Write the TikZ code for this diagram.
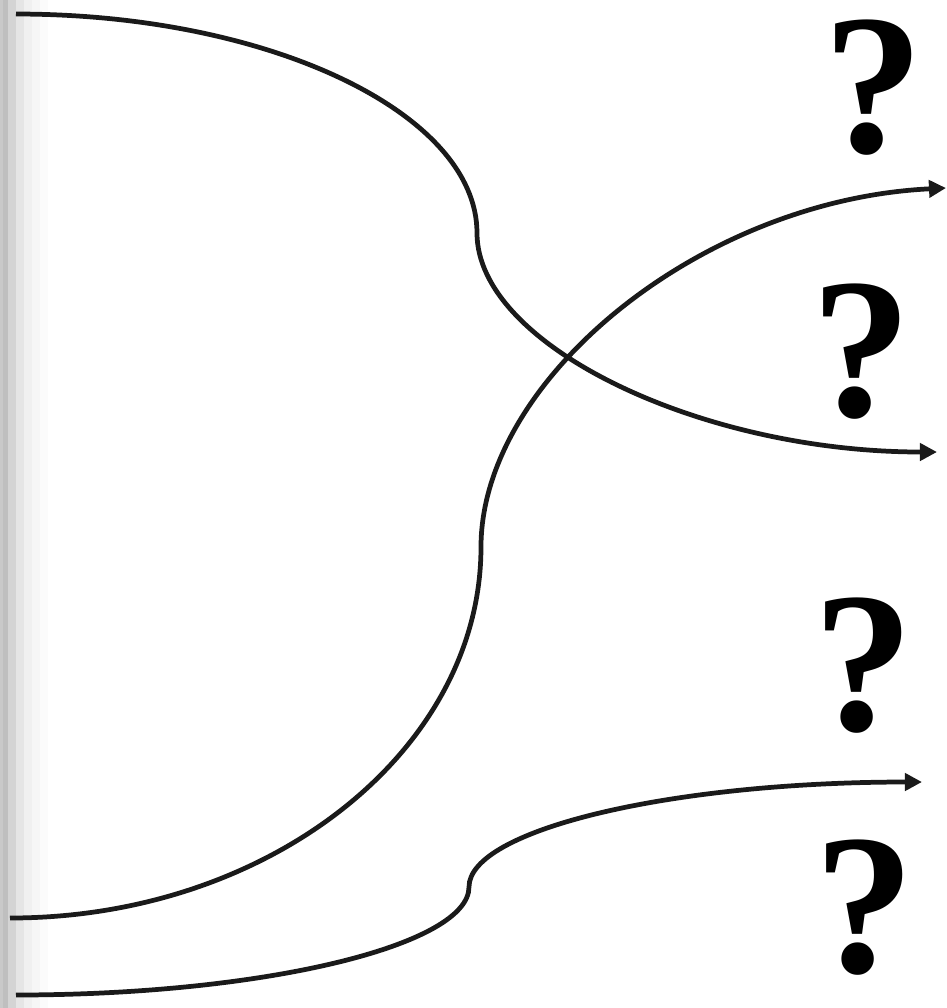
\documentclass[tikz,border=0pt]{standalone}
\usepackage{fontspec}
\setmainfont{Liberation Serif}
\usetikzlibrary{arrows.meta}
\definecolor{flowink}{HTML}{1A1A1A}

\begin{document}
\begin{tikzpicture}[x=0.1mm,y=-0.1mm,>={Triangle[length=1.7mm,width=1.7mm]}]
  \tikzstyle{flow}=[draw=flowink, line width=1.35pt]
  \tikzstyle{unknown}=[font=\fontsize{57}{57}\selectfont\bfseries, inner sep=0pt, anchor=base]

  \path[use as bounding box] (0,0) rectangle (947,1008);

  % Left edge: banded grey fade.
  \foreach \x/\shadeval in {0/21,3/25,8/17,16/10,24/6,32/3.5,40/1.5} {
    \fill[black!\shadeval] (\x,0) rectangle (\x+8,1008);
  }
  \fill[black!21] (0,0) rectangle (3,1008);

  % End points of the three flows.
  \coordinate (topin) at (16,14);
  \coordinate (topmid) at (477,233);
  \coordinate (topout) at (937,452);
  \coordinate (midin) at (10,918);
  \coordinate (midmid) at (481,547);
  \coordinate (midout) at (946,188);
  \coordinate (lowin) at (16,995);
  \coordinate (lowmid) at (469,887);
  \coordinate (lowout) at (922,782);

  % Flows.
  \draw[flow, ->] (topin) .. controls (271,14) and (477,114) .. (topmid)
    .. controls (477,345) and (700,452) .. (topout);
  \draw[flow, ->] (midin) .. controls (270,918) and (481,750) .. (midmid)
    .. controls (481,380) and (700,200) .. (midout);
  \draw[flow, ->] (lowin) .. controls (265,995) and (469,945) .. (lowmid)
    .. controls (469,830) and (670,782) .. (lowout);

  % Question marks.
  \node[unknown] (qone) at (874,152) {?};
  \node[unknown] (qtwo) at (862,416) {?};
  \node[unknown] (qthree) at (864,730) {?};
  \node[unknown] (qfour) at (865,972) {?};
\end{tikzpicture}
\end{document}
